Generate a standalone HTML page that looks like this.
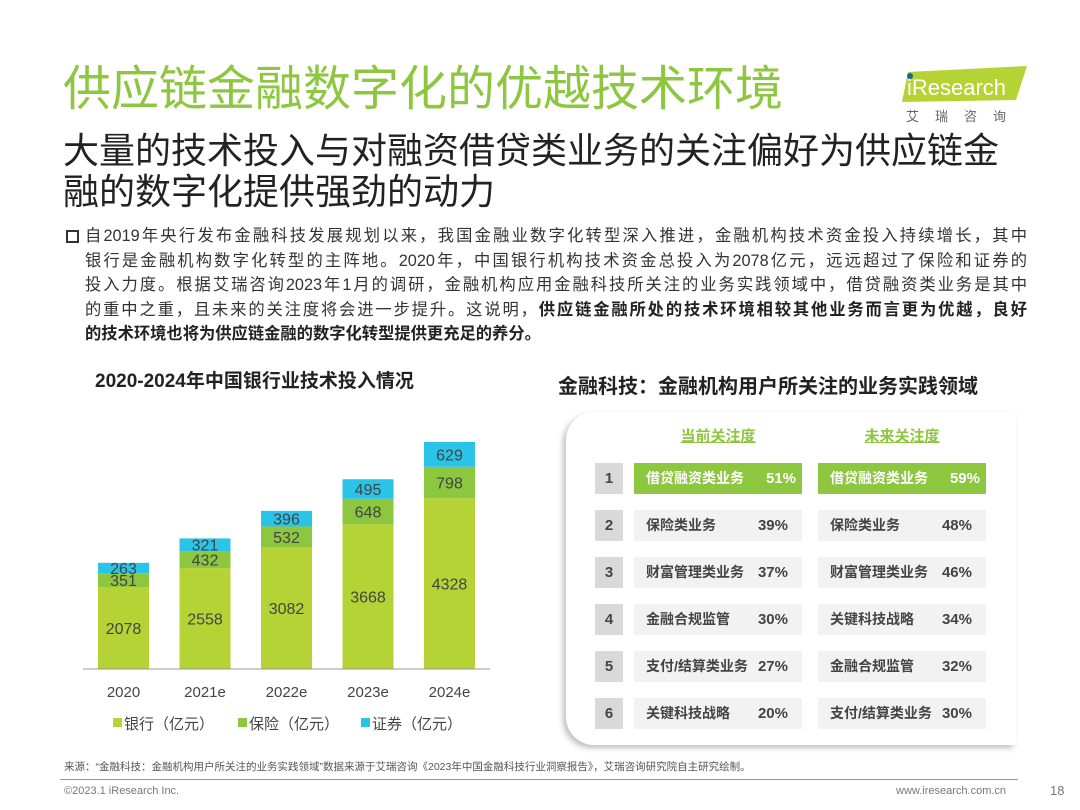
<!DOCTYPE html>
<html><head><meta charset="utf-8">
<style>
body{margin:0;width:1080px;height:810px;background:#fff;overflow:hidden;position:relative;font-family:"Liberation Sans","Noto Sans CJK SC",sans-serif;color:#333}
.abs{position:absolute}
.title{left:63px;top:60px;font-size:48px;color:#8dc63f;white-space:nowrap;line-height:60px}
.sub{left:63px;top:130px;font-size:36px;color:#222;line-height:41px;white-space:nowrap}
.para{left:85px;top:224px;width:942px;font-size:16.3px;line-height:24.5px;color:#333}
.para div{text-align:justify;text-align-last:justify;white-space:nowrap}
.para b{color:#222}
.ct{font-weight:bold;font-size:19px;color:#222;white-space:nowrap}
.row{position:absolute;height:31px;line-height:31px;font-size:14px;font-weight:bold;color:#444}
</style></head><body>
<div class="abs title">供应链金融数字化的优越技术环境</div>
<div class="abs" style="left:892px;top:58px;width:140px;height:66px">
<svg width="140" height="66"><polygon points="16,14 135,8 124,42 10,44" fill="#b5d334"/><circle cx="18" cy="18" r="3" fill="#1f5fa8"/><text x="15" y="37" font-size="22" fill="#fff" font-family="Liberation Sans">iResearch</text>
<text x="14" y="63" font-size="13" fill="#666" font-family="Noto Sans CJK SC" letter-spacing="16">艾瑞咨询</text></svg></div>
<div class="abs sub">大量的技术投入与对融资借贷类业务的关注偏好为供应链金<br>融的数字化提供强劲的动力</div>
<div class="abs" style="left:66px;top:230px;width:9px;height:9px;border:2px solid #333"></div>
<div class="abs para">
<div>自2019年央行发布金融科技发展规划以来，我国金融业数字化转型深入推进，金融机构技术资金投入持续增长，其中</div>
<div>银行是金融机构数字化转型的主阵地。2020年，中国银行机构技术资金总投入为2078亿元，远远超过了保险和证券的</div>
<div>投入力度。根据艾瑞咨询2023年1月的调研，金融机构应用金融科技所关注的业务实践领域中，借贷融资类业务是其中</div>
<div>的重中之重，且未来的关注度将会进一步提升。这说明，<b>供应链金融所处的技术环境相较其他业务而言更为优越，良好</b></div>
<div style="text-align-last:left"><b>的技术环境也将为供应链金融的数字化转型提供更充足的养分。</b></div>
</div>
<div class="abs ct" style="left:95px;top:366px">2020-2024年中国银行业技术投入情况</div>
<div class="abs ct" style="left:558px;top:370px;font-size:20px">金融科技：金融机构用户所关注的业务实践领域</div>

<svg class="abs" id="chart" style="left:0;top:0" width="540" height="750"></svg>

<div class="abs" style="left:566px;top:412px;width:450px;height:333px;border-radius:28px 0 0 28px;box-shadow:-3px 3px 6px rgba(0,0,0,0.25)"></div>
<div class="abs" style="left:634px;top:425px;width:168px;text-align:center;font-size:15px;font-weight:bold;color:#8dc63f;text-decoration:underline">当前关注度</div>
<div class="abs" style="left:818px;top:425px;width:168px;text-align:center;font-size:15px;font-weight:bold;color:#8dc63f;text-decoration:underline">未来关注度</div>
<div id="table"></div>

<div class="abs" style="left:64px;top:759px;font-size:10.5px;color:#555;white-space:nowrap">来源：“金融科技：金融机构用户所关注的业务实践领域”数据来源于艾瑞咨询《2023年中国金融科技行业洞察报告》，艾瑞咨询研究院自主研究绘制。</div>
<div class="abs" style="left:60px;top:779px;width:958px;height:1px;background:#999"></div>
<div class="abs" style="left:64px;top:785px;font-size:11px;color:#777">©2023.1 iResearch Inc.</div>
<div class="abs" style="left:896px;top:785px;font-size:11px;color:#777">www.iresearch.com.cn</div>
<div class="abs" style="left:1050px;top:783px;font-size:13px;color:#777">18</div>

<script>
const categories=["2020","2021e","2022e","2023e","2024e"];
const bank=[2078,2558,3082,3668,4328];
const insurance=[351,432,532,648,798];
const securities=[263,321,396,495,629];
const legendLabels=["银行（亿元）","保险（亿元）","证券（亿元）"];
const colors=["#b5d334","#8dc63f","#29c4e8"];
const curItems=["借贷融资类业务","保险类业务","财富管理类业务","金融合规监管","支付/结算类业务","关键科技战略"];
const curVals=[51,39,37,30,27,20];
const futItems=["借贷融资类业务","保险类业务","财富管理类业务","关键科技战略","金融合规监管","支付/结算类业务"];
const futVals=[59,48,46,34,32,30];

const NS="http://www.w3.org/2000/svg";
const svg=document.getElementById('chart');
const baseY=669, scale=227/5755, x0=123.5, step=81.5, bw=51;
const xc=i=>x0+i*step;
const yv=v=>baseY-v*scale;
function mk(t,a){const e=document.createElementNS(NS,t);for(const k in a)e.setAttribute(k,a[k]);svg.appendChild(e);return e;}
const series=[bank,insurance,securities];
categories.forEach((c,i)=>{
  let acc=0;
  series.forEach((s,j)=>{
    const r=mk('rect',{x:xc(i)-bw/2,y:yv(acc+s[i]),width:bw,height:s[i]*scale,fill:colors[j]});
    
    
    const t=mk('text',{x:xc(i),y:yv(acc+s[i]/2)+6,'text-anchor':'middle','font-size':16,fill:'#444','font-family':'Liberation Sans'});
    t.textContent=s[i];
    
    
    acc+=s[i];
  });
  const xl=mk('text',{x:xc(i),y:697,'text-anchor':'middle','font-size':15,fill:'#444','font-family':'Liberation Sans'});
  xl.textContent=c;
  
  
});
const ax=mk('line',{x1:83,x2:490,y1:baseY,y2:baseY,stroke:'#999','stroke-width':1});


const lx=[113,238,361];
legendLabels.forEach((l,j)=>{
  const r=mk('rect',{x:lx[j],y:718,width:9,height:9,fill:colors[j]});
  
  
  const t=mk('text',{x:lx[j]+11,y:729,'font-size':15,fill:'#444','font-family':'Liberation Sans, Noto Sans CJK SC'});
  t.textContent=l;
  
  
});

const tb=document.getElementById('table');
function cell(x,y,w,txt,val,hi){
  const d=document.createElement('div');
  d.className='row';
  
  
  d.style.left=x+'px';d.style.top=y+'px';d.style.width=w+'px';
  d.style.background=hi?'#8dc63f':'#f2f2f2';
  if(hi)d.style.color='#fff';
  d.innerHTML='<span style="position:absolute;left:12px">'+txt+'</span><span style="position:absolute;right:'+(hi?6:14)+'px;font-size:15px">'+val+'%</span>';
  tb.appendChild(d);
}
curItems.forEach((it,i)=>{
  const y=463+i*47;
  const n=document.createElement('div');
  n.className='row';
  
  
  n.style.cssText+='left:595px;top:'+y+'px;width:28px;background:#d9d9d9;text-align:center;font-size:15px';
  n.textContent=i+1;
  tb.appendChild(n);
  cell(634,y,168,it,curVals[i],i===0);
  cell(818,y,168,futItems[i],futVals[i],i===0);
});
</script>
</body></html>
